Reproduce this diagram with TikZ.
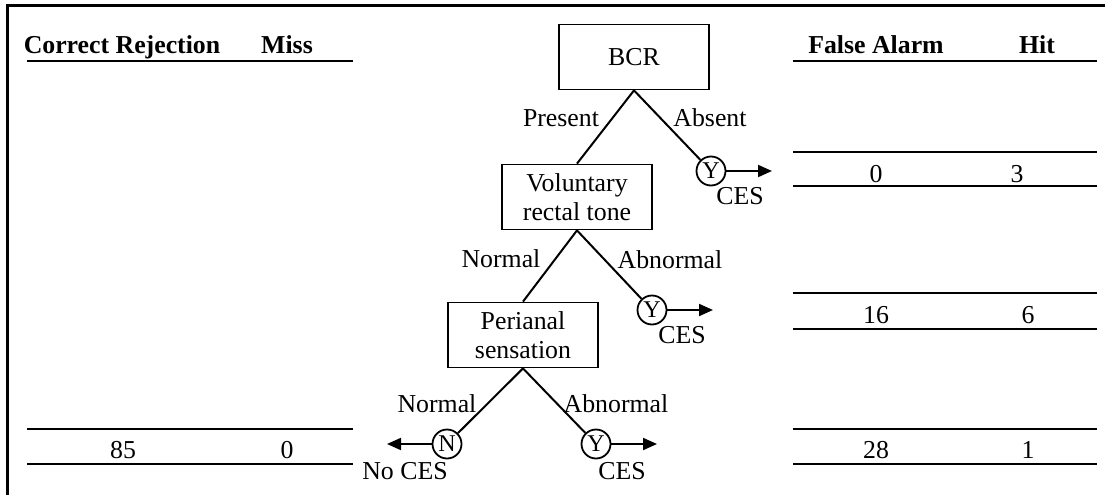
\documentclass[tikz,border=0pt]{standalone}
\usepackage{fontspec}
\setmainfont{Liberation Serif}
\usetikzlibrary{arrows.meta}
\begin{document}
\begin{tikzpicture}[x=1pt,y=-1pt,
  txt/.style={font=\fontsize{25.8}{28}\selectfont, inner sep=0pt, anchor=base},
  hdr/.style={font=\fontsize{25.8}{28}\selectfont\bfseries, inner sep=0pt, anchor=base},
  box/.style={draw, line width=1.8pt, minimum width=150pt, minimum height=65pt, align=center, font=\fontsize{25.8}{28.5}\selectfont, inner sep=0pt},
  dot/.style={draw, circle, line width=1.8pt, minimum size=29pt, inner sep=0pt, font=\fontsize{24}{24}\selectfont},
  branch/.style={line width=2pt},
  outarrow/.style={line width=2pt, -{Triangle[length=14pt,width=12pt]}},
  rule/.style={line width=2.6pt}
]
\useasboundingbox (0,0) rectangle (1105,495);
\draw[line width=3pt] (7,495) -- (7,6) -- (1105,6);

% headers
\node[hdr] (hcr) at (122,53) {Correct Rejection};
\node[hdr] (hmiss) at (287,53) {Miss};
\node[hdr] (hfa) at (876,53) {False Alarm};
\node[hdr] (hhit) at (1037,53) {Hit};
\draw[rule] (27,61) -- (353,61);
\draw[rule] (793,61) -- (1097,61);

% right rows
\draw[rule] (793,152) -- (1097,152);
\draw[rule] (793,186) -- (1097,186);
\node[txt] (fa1) at (876,182) {0};
\node[txt] (hit1) at (1017,182) {3};
\draw[rule] (793,293) -- (1097,293);
\draw[rule] (793,329) -- (1097,329);
\node[txt] (fa2) at (876,323) {16};
\node[txt] (hit2) at (1028,323) {6};
\draw[rule] (793,429) -- (1097,429);
\draw[rule] (793,464) -- (1097,464);
\node[txt] (fa3) at (876,458) {28};
\node[txt] (hit3) at (1028,458) {1};

% left row
\draw[rule] (27,429) -- (353,429);
\draw[rule] (27,464) -- (353,464);
\node[txt] (cr3) at (123,458) {85};
\node[txt] (miss3) at (287,458) {0};

% tree
\node[box] (bcr) at (634,57) {BCR};
\node[box] (vrt) at (577,197) {Voluntary\\rectal tone};
\node[box] (pan) at (523,335) {Perianal\\sensation};
\node[dot] (y1) at (711,171) {Y};
\node[dot] (y2) at (652,310) {Y};
\node[dot] (y3) at (596,444) {Y};
\node[dot] (n3) at (447,444) {N};
\coordinate (e1) at (772,171);
\coordinate (e2) at (713,310);
\coordinate (e3) at (657,444);
\coordinate (e4) at (387,444);

\draw[branch] (bcr.south) -- (vrt.north);
\draw[branch] (bcr.south) -- (y1);
\draw[branch] (vrt.south) -- (pan.north);
\draw[branch] (vrt.south) -- (y2);
\draw[branch] (pan.south) -- (n3);
\draw[branch] (pan.south) -- (y3);
\draw[outarrow] (y1) -- (e1);
\draw[outarrow] (y2) -- (e2);
\draw[outarrow] (y3) -- (e3);
\draw[outarrow] (n3) -- (e4);

% labels
\node[txt] (lpres) at (561,126) {Present};
\node[txt] (labs) at (710,126) {Absent};
\node[txt] (lces1) at (740,204) {CES};
\node[txt] (lnorm1) at (501,267) {Normal};
\node[txt] (labn1) at (670,268) {Abnormal};
\node[txt] (lces2) at (682,343) {CES};
\node[txt] (lnorm2) at (437,412) {Normal};
\node[txt] (labn2) at (616,412) {Abnormal};
\node[txt] (lnoces) at (405,479) {No CES};
\node[txt] (lces3) at (622,479) {CES};
\end{tikzpicture}
\end{document}
